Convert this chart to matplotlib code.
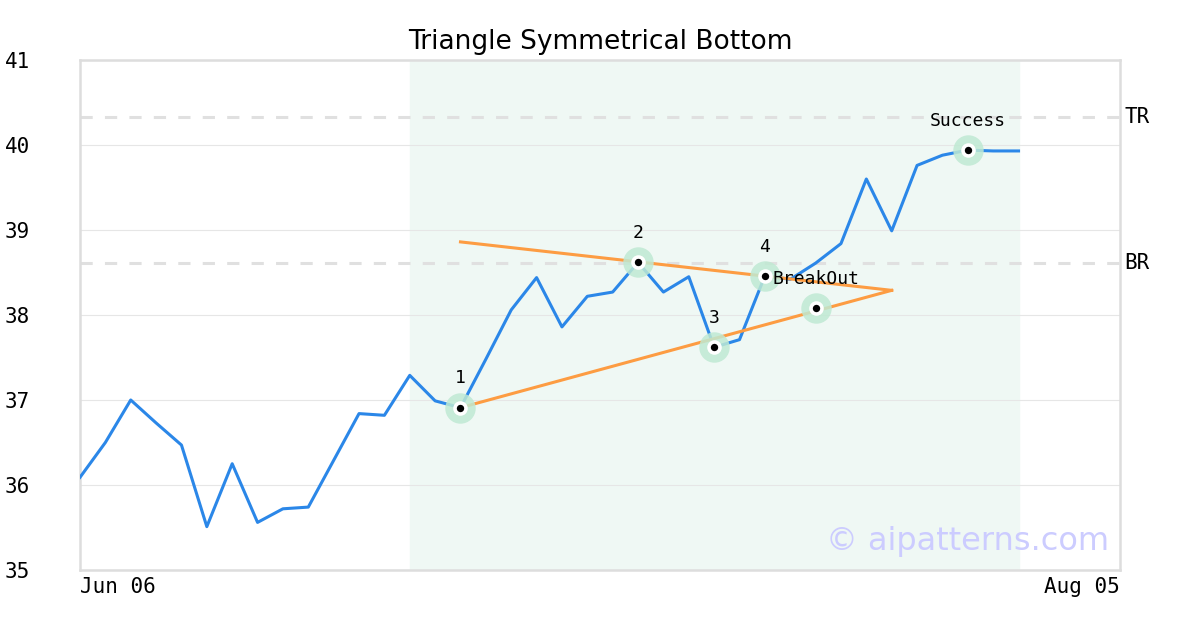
import matplotlib
matplotlib.use('Agg')
import matplotlib.pyplot as plt
import numpy as np

# ==== Data ====
prices = [36.09, 36.5, 37.0, 36.73, 36.47, 35.51, 36.25, 35.56, 35.72, 35.74,
          36.29, 36.84, 36.82, 37.29, 36.99, 36.91, 37.48, 38.06, 38.44, 37.86,
          38.22, 38.27, 38.62, 38.27, 38.45, 37.62, 37.71, 38.46, 38.42, 38.61,
          38.84, 39.6, 38.99, 39.76, 39.88, 39.94, 39.93, 39.93]
n_days = 41
x_tick_pos = [0, 41]
x_tick_labels = ['Jun 06', 'Aug 05']
y_ticks = [35, 36, 37, 38, 39, 40, 41]

pattern_start, pattern_end = 13, 37

upper_x, upper_y = [15, 32], [38.86, 38.29]
lower_x, lower_y = [15, 32], [36.91, 38.29]

point_x = [15, 22, 25, 27, 29, 35]
point_y = [36.91, 38.62, 37.62, 38.46, 38.08, 39.94]
point_labels = ['1', '2', '3', '4', 'BreakOut', 'Success']

level_names = ['TR', 'BR']
level_values = [40.33, 38.61]

# ==== Style ====
BLUE = '#2b87e8'
ORANGE = '#fd9c42'
SHADE = '#eff8f4'
HALO = '#bfe9d3'
GRID = '#e6e6e6'
FRAME = '#dddddd'
MONO = 'DejaVu Sans Mono'

fig = plt.figure(figsize=(12, 6.3), dpi=100)
ax = fig.add_axes([80 / 1200, 1 - 570 / 630, 1040 / 1200, 510 / 630])

ax.axvspan(pattern_start, pattern_end, color=SHADE, zorder=0)
for v in y_ticks:
    ax.axhline(v, color=GRID, lw=0.8, zorder=1)
for v in level_values:
    ax.axhline(v, color='#e0e0e0', lw=2.2, dashes=(4, 4), zorder=1)

x = np.arange(len(prices))
ax.plot(x, prices, color=BLUE, lw=2.2, zorder=3)
ax.plot(upper_x, upper_y, color=ORANGE, lw=2.2, zorder=4)
ax.plot(lower_x, lower_y, color=ORANGE, lw=2.2, zorder=4)

ax.scatter(point_x, point_y, s=480, color=HALO, alpha=0.85, lw=0, zorder=5)
ax.scatter(point_x, point_y, s=110, color='white', lw=0, zorder=6)
ax.scatter(point_x, point_y, s=28, color='black', lw=0, zorder=7)
for px, py, lab in zip(point_x, point_y, point_labels):
    ax.annotate(lab, (px, py), xytext=(0, 21), textcoords='offset points',
                ha='center', va='center', fontsize=13, family=MONO, zorder=8)

for name, v in zip(level_names, level_values):
    ax.text(1.004, v, name, transform=ax.get_yaxis_transform(), ha='left',
            va='center', fontsize=15, family=MONO)

ax.text(0.99, 0.055, '\u00a9 aipatterns.com', transform=ax.transAxes,
        ha='right', va='center', fontsize=23, color='#ccccff', zorder=9)

ax.set_xlim(0, n_days)
ax.set_ylim(35, 41)
ax.set_yticks(y_ticks)
ax.set_yticklabels([str(v) for v in y_ticks], family=MONO, fontsize=15)
for lab in ax.get_yticklabels():
    lab.set_horizontalalignment('left')
ax.tick_params(axis='y', length=0, pad=54)
ax.set_xticks(x_tick_pos)
ax.set_xticklabels(x_tick_labels, family=MONO, fontsize=15)
xl = ax.get_xticklabels()
xl[0].set_horizontalalignment('left')
xl[1].set_horizontalalignment('right')
ax.tick_params(axis='x', length=0, pad=5)

for sp in ax.spines.values():
    sp.set_color(FRAME)
    sp.set_linewidth(1.8)

ax.set_title('Triangle Symmetrical Bottom', fontsize=19, pad=8)

fig.savefig('out.png', dpi=100)
